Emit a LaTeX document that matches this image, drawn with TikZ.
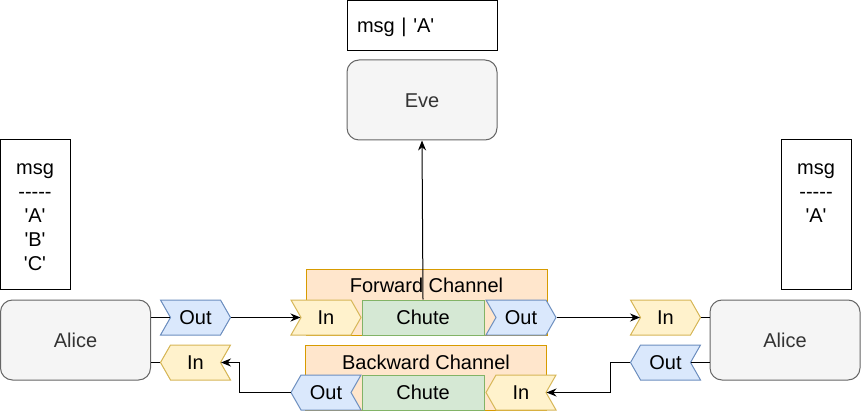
\documentclass[tikz,border=0pt]{standalone}
\usepackage{fontspec}
\setmainfont{Liberation Sans}[Ligatures=TeXOff]
\usetikzlibrary{arrows.meta,calc}
\definecolor{gS}{HTML}{666666}
\definecolor{gF}{HTML}{F5F5F5}
\definecolor{gT}{HTML}{333333}
\definecolor{bS}{HTML}{6C8EBF}
\definecolor{bF}{HTML}{DAE8FC}
\definecolor{yS}{HTML}{D6B656}
\definecolor{yF}{HTML}{FFF2CC}
\definecolor{grS}{HTML}{82B366}
\definecolor{grF}{HTML}{D5E8D4}
\definecolor{oS}{HTML}{D79B00}
\definecolor{oF}{HTML}{FFE6CC}
\newcommand\chevR[5]{%
  \filldraw[fill=#1,draw=#2,shift={#4}] (-35,-17.5) -- (25,-17.5) -- (35,0) -- (25,17.5) -- (-35,17.5) -- (-25,0) -- cycle;
  \node[base,minimum width=70pt,minimum height=35pt] (#3) at #4 {#5};}
\newcommand\chevL[5]{%
  \filldraw[fill=#1,draw=#2,shift={#4}] (-35,0) -- (-25,-17.5) -- (35,-17.5) -- (25,0) -- (35,17.5) -- (-25,17.5) -- cycle;
  \node[base,minimum width=70pt,minimum height=35pt] (#3) at #4 {#5};}
\tikzset{
  base/.style={font=\fontsize{20}{24}\selectfont,text height=14.5pt,text depth=0pt,inner sep=0pt},
  actor/.style={base,draw=gS,fill=gF,text=gT,rounded corners=12pt,minimum width=150pt,minimum height=80pt},
  msgbox/.style={draw=black,minimum width=70pt,minimum height=150pt,inner sep=0pt},
  msgtxt/.style={font=\fontsize{20}{24}\selectfont,align=center,inner sep=0pt,anchor=north},
  chan/.style={draw=oS,fill=oF,minimum width=241pt,minimum height=65pt,inner sep=0pt},
  chute/.style={base,draw=grS,fill=grF,minimum width=122pt,minimum height=35pt},
  wire/.style={draw=black,line width=1pt},
  arr/.style={wire,-{Stealth[length=10pt,width=8pt]}}
}
\begin{document}
\begin{tikzpicture}[x=1pt,y=-1pt,line width=1pt]
\useasboundingbox (0,0) rectangle (861,411);
% top
\node[base,draw=black,minimum width=150pt,minimum height=50pt,text width=130pt,inner xsep=10pt,align=left] (evemsg) at (422,25.5) {msg | 'A'};
\node[actor] (eve) at (422,100) {Eve};
% side message boxes
\node[msgbox] (lmsg) at (35,215) {};
\node[msgtxt] (lmsgtxt) at (35,157) {\strut msg\\-----\\'A'\\'B'\\'C'};
\node[msgbox] (rmsg) at (816,215) {};
\node[msgtxt] (rmsgtxt) at (816,157) {\strut msg\\-----\\'A'};
% actors
\node[actor] (alL) at (75.5,340) {Alice};
\node[actor] (alR) at (785,340) {Alice};
% channels
\node[chan] (fchan) at (426.5,302.5) {};
\node[base] (flab) at (426.5,285.5) {Forward Channel};
\node[chan] (bchan) at (426,377.5) {};
\node[base] (blab) at (426,362.5) {Backward Channel};
% forward row
\chevR{yF}{yS}{fin}{(326,317.5)}{In}
\node[chute] (fch) at (423,317.5) {Chute};
\chevR{bF}{bS}{fout}{(521,317.5)}{Out}
% backward row
\chevL{bF}{bS}{bout}{(326,392.5)}{Out}
\node[chute] (bch) at (423,392.5) {Chute};
\chevL{yF}{yS}{bin}{(521,392.5)}{In}
% Alice left ports
\chevR{bF}{bS}{outL}{(195.5,317.5)}{Out}
\chevL{yF}{yS}{inL}{(195.5,362.5)}{In}
% Alice right ports
\chevR{yF}{yS}{inR}{(665.5,317.5)}{In}
\chevL{bF}{bS}{outR}{(665.5,362.5)}{Out}
% connectors
\draw[wire] (alL.east |- outL.west) -- ([xshift=10pt]outL.west);
\draw[wire] (alL.east |- inL.west) -- (inL.west);
\draw[arr] (outL.east) -- ([xshift=10pt]fin.west);
\draw[arr] (fout.east) -- ([xshift=10pt]inR.west);
\draw[wire] (inR.east) -- (alR.west |- inR.east);
\draw[wire] (alR.west |- outR.east) -- ([xshift=-10pt]outR.east);
\draw[arr] (outR.west) -- ++(-20,0) |- ([xshift=-10pt]bin.east);
\draw[arr] (bout.west) -- ++(-51,0) |- ([xshift=-10pt]inL.east);
\draw[arr] (fch.north) -- (eve.south);
\end{tikzpicture}
\end{document}
